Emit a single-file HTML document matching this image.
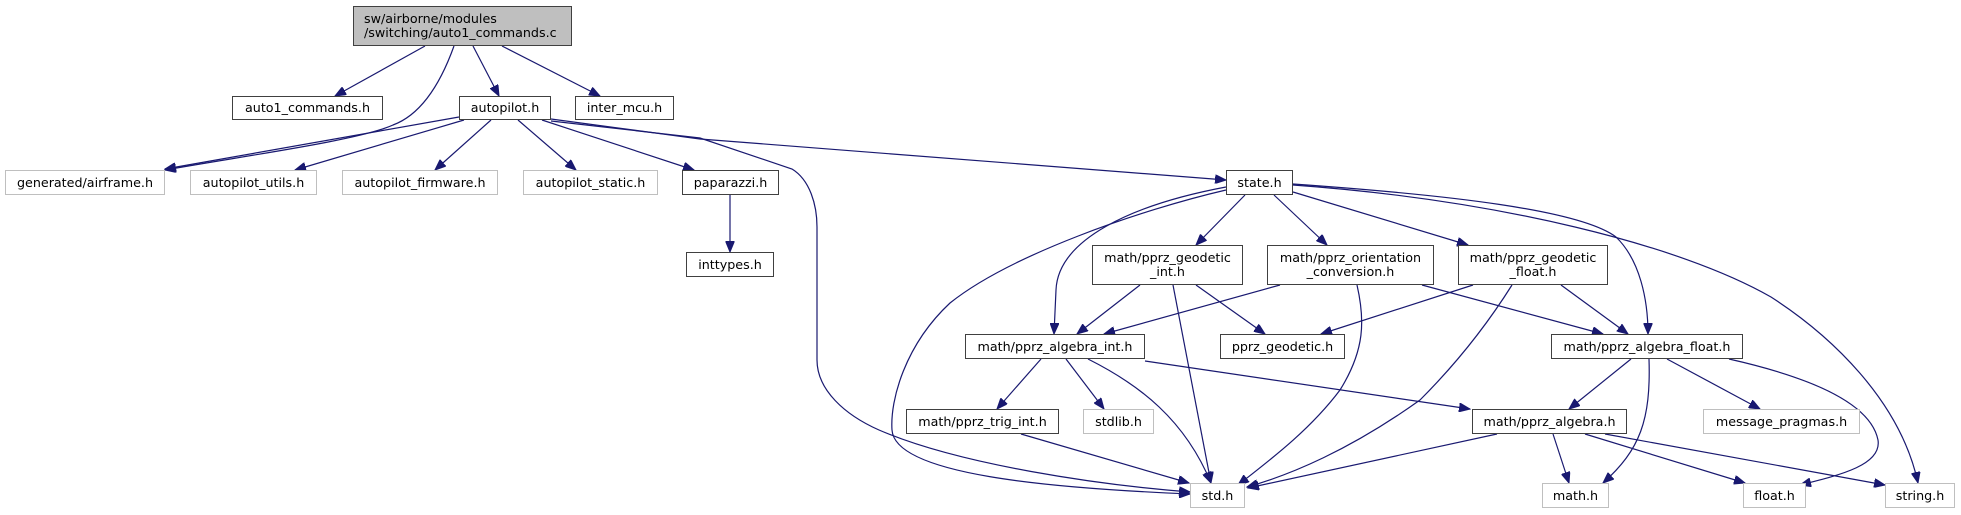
<!DOCTYPE html>
<html><head><meta charset="utf-8"><style>
body{margin:0;width:1961px;height:515px;background:#fff;position:relative;overflow:hidden;font-family:"DejaVu Sans","Liberation Sans",sans-serif;}
.n{position:absolute;box-sizing:border-box;border:1.5px solid #404040;background:#fff;font-size:12.7px;color:#000;text-align:center;display:flex;align-items:center;justify-content:center;line-height:14px;white-space:nowrap}
.g{border:1.5px solid #bfbfbf}
svg{position:absolute;left:0;top:0}
</style></head><body>
<svg width="1961" height="515" viewBox="0 0 1961 515">
<defs><marker id="a" markerUnits="userSpaceOnUse" markerWidth="12" markerHeight="9" refX="11" refY="4.5" orient="auto"><path d="M0,0 L11,4.5 L0,9 z" fill="#191970" stroke="#191970"/></marker></defs>
<g fill="none" stroke="#191970" stroke-width="1.2" marker-end="url(#a)">
<path d="M425,46 L335,96"/>
<path d="M454,46 C440,85 420,115 393,125 C360,140 250,155 165,170"/>
<path d="M473,46 L499,96"/>
<path d="M502,46 L600,96"/>
<path d="M459,117 L165,169"/>
<path d="M464,120 L295,170"/>
<path d="M491,120 L435,170"/>
<path d="M518,120 L576,170"/>
<path d="M542,120 L694,170"/>
<path d="M551,121 L700,138 L792,169 C810,180 817,205 817,227 L817,360 C817,390 845,415 879,430 C960,465 1100,485 1190,492"/>
<path d="M551,119 L700,139 L1226,180"/>
<path d="M730,195 L730,252"/>
<path d="M1226,187 C1130,205 1058,240 1056,290 L1054,334"/>
<path d="M1226,190 C1140,210 1010,255 950,303 C905,345 890,400 892,430 C895,475 1050,488 1190,494"/>
<path d="M1245,195 L1196,245"/>
<path d="M1274,195 L1327,245"/>
<path d="M1293,192 L1468,245"/>
<path d="M1293,184 C1450,195 1580,210 1616,237 C1640,260 1648,300 1648,334"/>
<path d="M1293,185 C1500,200 1680,245 1771,297 C1830,335 1900,400 1918,483"/>
<path d="M1140,285 L1077,334"/>
<path d="M1196,285 L1265,334"/>
<path d="M1173,285 L1211,483"/>
<path d="M1280,285 L1104,334"/>
<path d="M1422,285 L1603,334"/>
<path d="M1357,285 C1365,320 1365,350 1340,390 C1310,430 1270,460 1238,485"/>
<path d="M1473,285 L1321,334"/>
<path d="M1512,285 C1490,320 1460,360 1420,400 C1350,450 1290,475 1247,487"/>
<path d="M1561,285 L1628,334"/>
<path d="M1041,359 L997,409"/>
<path d="M1066,359 L1104,409"/>
<path d="M1088,359 C1140,385 1185,420 1211,483"/>
<path d="M1145,361 L1470,409"/>
<path d="M1021,434 L1189,483"/>
<path d="M1631,359 L1569,409"/>
<path d="M1649,359 C1651,420 1640,450 1603,483"/>
<path d="M1667,359 L1760,409"/>
<path d="M1729,359 C1800,375 1870,400 1878,440 C1882,465 1840,475 1800,485"/>
<path d="M1497,434 L1248,488"/>
<path d="M1553,434 L1569,483"/>
<path d="M1585,434 L1745,483"/>
<path d="M1605,434 L1885,485"/>
</g>
</svg>
<div class="n" style="left:353px;top:6px;width:219px;height:40px;background:#bfbfbf;justify-content:flex-start;padding-left:10px;text-align:left">sw/airborne/modules<br>/switching/auto1_commands.c</div>
<div class="n" style="left:232px;top:96px;width:151px;height:24px">auto1_commands.h</div>
<div class="n" style="left:459px;top:96px;width:92px;height:24px">autopilot.h</div>
<div class="n" style="left:575px;top:96px;width:99px;height:24px">inter_mcu.h</div>
<div class="n g" style="left:5px;top:170px;width:160px;height:25px">generated/airframe.h</div>
<div class="n g" style="left:190px;top:170px;width:127px;height:25px">autopilot_utils.h</div>
<div class="n g" style="left:342px;top:170px;width:156px;height:25px">autopilot_firmware.h</div>
<div class="n g" style="left:523px;top:170px;width:135px;height:25px">autopilot_static.h</div>
<div class="n" style="left:682px;top:170px;width:97px;height:25px">paparazzi.h</div>
<div class="n" style="left:686px;top:252px;width:88px;height:25px">inttypes.h</div>
<div class="n" style="left:1226px;top:170px;width:67px;height:25px">state.h</div>
<div class="n" style="left:1092px;top:245px;width:151px;height:40px">math/pprz_geodetic<br>_int.h</div>
<div class="n" style="left:1267px;top:245px;width:167px;height:40px">math/pprz_orientation<br>_conversion.h</div>
<div class="n" style="left:1458px;top:245px;width:150px;height:40px">math/pprz_geodetic<br>_float.h</div>
<div class="n" style="left:965px;top:334px;width:180px;height:25px">math/pprz_algebra_int.h</div>
<div class="n" style="left:1220px;top:334px;width:125px;height:25px">pprz_geodetic.h</div>
<div class="n" style="left:1551px;top:334px;width:192px;height:25px">math/pprz_algebra_float.h</div>
<div class="n" style="left:906px;top:409px;width:153px;height:25px">math/pprz_trig_int.h</div>
<div class="n g" style="left:1083px;top:409px;width:71px;height:25px">stdlib.h</div>
<div class="n" style="left:1472px;top:409px;width:155px;height:25px">math/pprz_algebra.h</div>
<div class="n g" style="left:1703px;top:409px;width:157px;height:25px">message_pragmas.h</div>
<div class="n g" style="left:1190px;top:483px;width:55px;height:25px">std.h</div>
<div class="n g" style="left:1542px;top:483px;width:67px;height:25px">math.h</div>
<div class="n g" style="left:1743px;top:483px;width:63px;height:25px">float.h</div>
<div class="n g" style="left:1885px;top:483px;width:70px;height:25px">string.h</div>
</body></html>
